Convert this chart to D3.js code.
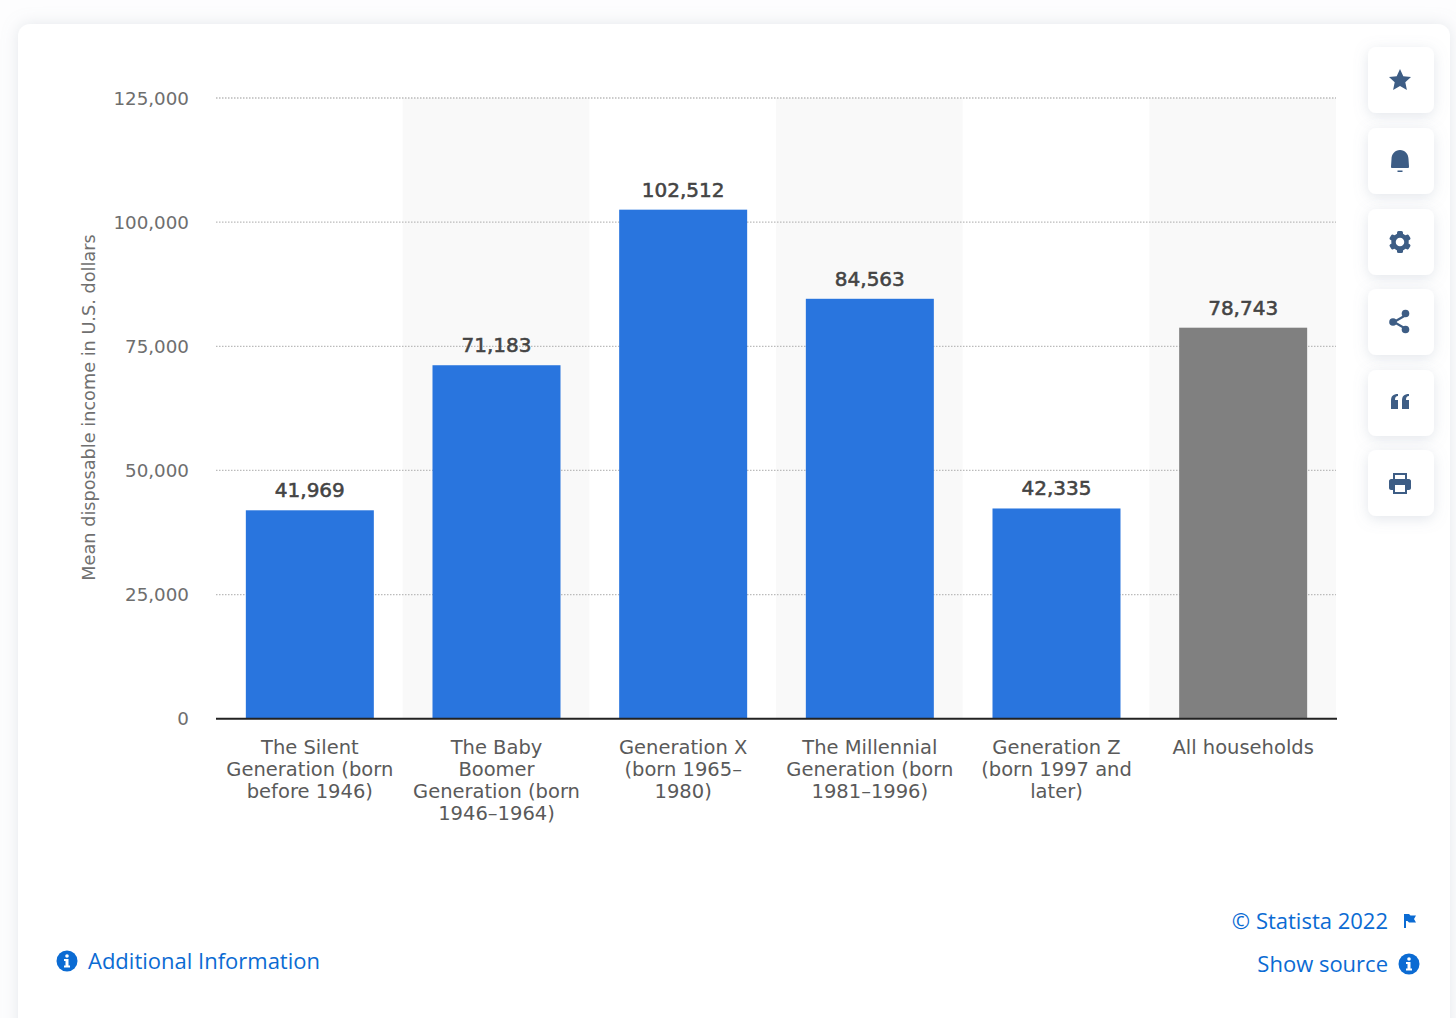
<!DOCTYPE html>
<html>
<head>
<meta charset="utf-8">
<script src="https://cdnjs.cloudflare.com/ajax/libs/d3/7.8.5/d3.min.js"></script>
<style>
html, body { margin: 0; padding: 0; background: #fdfdfe; overflow: hidden; }
svg { display: block; }
.tick_y text { font: 18.3px "DejaVu Sans", sans-serif; fill: #6e6e6e; }
.cat_label { font: 19.5px "DejaVu Sans", sans-serif; fill: #5a5a5a; text-anchor: middle; }
.val_label { font: 20px "DejaVu Sans", sans-serif; fill: #444; stroke: #444; stroke-width: 0.55px; text-anchor: middle; }
.y_title { font: 17.7px "DejaVu Sans", sans-serif; fill: #707070; text-anchor: middle; }
.link { font: 22px "Open Sans", sans-serif; fill: #0b6bd3; }
</style>
</head>
<body>
<div id="content"></div>
<script>
var categories = ["silent", "boomer", "genx", "millennial", "genz", "all"];
var cat_lines = [
	["The Silent", "Generation (born", "before 1946)"],
	["The Baby", "Boomer", "Generation (born", "1946–1964)"],
	["Generation X", "(born 1965–", "1980)"],
	["The Millennial", "Generation (born", "1981–1996)"],
	["Generation Z", "(born 1997 and", "later)"],
	["All households"]
];
var values = [41969, 71183, 102512, 84563, 42335, 78743];
var y_ticks = [0, 25000, 50000, 75000, 100000, 125000];
var y_title = "Mean disposable income in U.S. dollars";

var blue = "#2975de", grey = "#808080", icon = "#3d5d85", link = "#0b6bd3";

var svg = d3.select("#content").append("svg")
	.attr("width", 1456)
	.attr("height", 1018);

var defs = svg.append("defs");
var card_shadow = defs.append("filter").attr("id", "card_shadow")
	.attr("x", "-5%").attr("y", "-5%").attr("width", "110%").attr("height", "110%");
card_shadow.append("feDropShadow").attr("dx", 0).attr("dy", 0).attr("stdDeviation", 8)
	.attr("flood-color", "#aab4c0").attr("flood-opacity", 0.3);
var btn_shadow = defs.append("filter").attr("id", "btn_shadow")
	.attr("x", "-40%").attr("y", "-40%").attr("width", "180%").attr("height", "180%");
btn_shadow.append("feDropShadow").attr("dx", 0).attr("dy", 3).attr("stdDeviation", 7)
	.attr("flood-color", "#8c9cb0").attr("flood-opacity", 0.25);

/* Card */
svg.append("rect")
	.attr("x", 18).attr("y", 24)
	.attr("width", 1432).attr("height", 1040)
	.attr("rx", 12)
	.attr("fill", "#fff")
	.attr("filter", "url(#card_shadow)");

/* Scales */
var x = d3.scaleBand().domain(categories).range([216, 1336]);
var y = d3.scaleLinear().domain([0, 125000]).range([718.7, 98]);
var bar_w = 128;

/* Shaded bands */
svg.selectAll(".band").data(categories.filter(function(d, i){ return i % 2 == 1; }))
	.enter().append("rect")
	.attr("class", "band")
	.attr("x", function(d){ return x(d); })
	.attr("y", y(125000))
	.attr("width", x.bandwidth())
	.attr("height", y(0) - y(125000))
	.attr("fill", "#f9f9f9");

/* Y axis */
var y_axis = svg.append("g")
	.attr("class", "tick_y")
	.attr("transform", "translate(216,0)")
	.call(d3.axisLeft(y).tickValues(y_ticks).tickSize(0).tickPadding(27).tickFormat(d3.format(",")));
y_axis.select(".domain").remove();
y_axis.selectAll("text").attr("dy", "0.34em");

svg.selectAll(".grid").data(y_ticks.filter(function(d){ return d > 0; }))
	.enter().append("line")
	.attr("class", "grid")
	.attr("x1", 216).attr("x2", 1336)
	.attr("y1", function(d){ return y(d); })
	.attr("y2", function(d){ return y(d); })
	.attr("stroke", "#bbb")
	.attr("stroke-width", 1.3)
	.attr("stroke-dasharray", "1.5 1.5");

svg.append("text")
	.attr("class", "y_title")
	.attr("transform", "translate(95,407.5) rotate(-90)")
	.text(y_title);

/* Bars */
svg.selectAll(".bar").data(values)
	.enter().append("rect")
	.attr("class", "bar")
	.attr("x", function(d, i){ return x(categories[i]) + (x.bandwidth() - bar_w)/2 + 0.5; })
	.attr("y", function(d){ return y(d); })
	.attr("width", bar_w)
	.attr("height", function(d){ return y(0) - y(d); })
	.attr("fill", function(d, i){ return i == 5 ? grey : blue; });

svg.selectAll(".val_label").data(values)
	.enter().append("text")
	.attr("class", "val_label")
	.attr("x", function(d, i){ return x(categories[i]) + x.bandwidth()/2 + 0.5; })
	.attr("y", function(d){ return y(d) - 13; })
	.text(d3.format(","));

/* Baseline */
svg.append("line")
	.attr("x1", 216).attr("x2", 1337)
	.attr("y1", y(0)).attr("y2", y(0))
	.attr("stroke", "#222")
	.attr("stroke-width", 2);

/* Category labels */
categories.forEach(function(c, i){
	var t = svg.append("text")
		.attr("class", "cat_label")
		.attr("x", x(c) + x.bandwidth()/2 + 0.5)
		.attr("y", 754);
	cat_lines[i].forEach(function(l, j){
		t.append("tspan")
			.attr("x", x(c) + x.bandwidth()/2 + 0.5)
			.attr("dy", j == 0 ? 0 : 22)
			.text(l);
	});
});

/* Side buttons */
var btn_y = [47, 128, 209, 289, 370, 450];
var btn_icons = [
	"M0,-11 L3.3,-3.8 L11,-3 L5.3,2.2 L6.9,10 L0,6 L-6.9,10 L-5.3,2.2 L-11,-3 L-3.3,-3.8 Z",
	"M-8,7 C-8.8,7 -9,6.4 -9,5.5 L-8.5,-2 C-8.5,-7 -5,-11 0,-11 C5,-11 8.5,-7 8.5,-2 L9,5.5 C9,6.4 8.8,7 8,7 Z M-2.5,9.5 H2.5 V11 H-2.5 Z",
	"",
	"",
	"M-9,-2 C-9,-7 -7,-9 -2,-9 V-7 C-4,-7 -5,-6 -5,-3 H-2 V6 H-9 Z M2,-2 C2,-7 4,-9 9,-9 V-7 C7,-7 6,-6 6,-3 H9 V6 H2 Z",
	"M-7,-4 V-10 H7 V-4 H9 C10,-4 11,-3 11,-2 V5 C11,6 10,7 9,7 H7 V11 H-7 V7 H-9 C-10,7 -11,6 -11,5 V-2 C-11,-3 -10,-4 -9,-4 Z M-5,-8 V-4 H5 V-8 Z M-5,2 V9 H5 V2 Z"
];
btn_y.forEach(function(b, i){
	var g = svg.append("g").attr("transform", "translate(1368," + b + ")");
	g.append("rect")
		.attr("width", 66).attr("height", 66).attr("rx", 8)
		.attr("fill", "#fff")
		.attr("filter", "url(#btn_shadow)");
	var c = g.append("g").attr("transform", "translate(32,33)");
	if (i == 2){
		// gear
		d3.range(6).forEach(function(k){
			c.append("rect")
				.attr("x", -3).attr("y", -11).attr("width", 6).attr("height", 5).attr("rx", 1.5)
				.attr("fill", icon)
				.attr("transform", "rotate(" + (k*60) + ")");
		});
		c.append("circle").attr("r", 6.5).attr("fill", "none").attr("stroke", icon).attr("stroke-width", 4.5);
	} else if (i == 3){
		// share
		c.append("path")
			.attr("d", "M6,-7 L-6,0 L6,7")
			.attr("fill", "none").attr("stroke", icon).attr("stroke-width", 2.2);
		[[5.5,-8.5],[-7,0],[5.5,7.5]].forEach(function(p){
			c.append("circle").attr("cx", p[0]).attr("cy", p[1]).attr("r", 3.8).attr("fill", icon);
		});
	} else {
		c.append("path").attr("d", btn_icons[i]).attr("fill", icon).attr("fill-rule", "evenodd");
	}
});

/* Footer links */
function info_icon(cx, cy){
	svg.append("circle").attr("cx", cx).attr("cy", cy).attr("r", 10.5).attr("fill", link);
	svg.append("circle").attr("cx", cx).attr("cy", cy - 5).attr("r", 1.8).attr("fill", "#fff");
	svg.append("path")
		.attr("d", "M" + (cx-3) + "," + (cy-2) + " h4.5 v6.5 h1.5 v2 h-6 v-2 h1.5 v-4.5 h-1.5 z")
		.attr("fill", "#fff");
}

info_icon(67, 961);
svg.append("text").attr("class", "link").attr("x", 88).attr("y", 969).text("Additional Information");

svg.append("text").attr("class", "link").attr("x", 1388).attr("y", 929).attr("text-anchor", "end").text("© Statista 2022");
svg.append("path")
	.attr("d", "M1404,914 h5 l1.5,1.5 h5.5 l-2,3.5 l2,3.5 h-7 l-1.5,-1.5 h-1.5 v7 h-2 z")
	.attr("fill", link);

svg.append("text").attr("class", "link").attr("x", 1388).attr("y", 972).attr("text-anchor", "end").text("Show source");
info_icon(1409, 964);
</script>
</body>
</html>
